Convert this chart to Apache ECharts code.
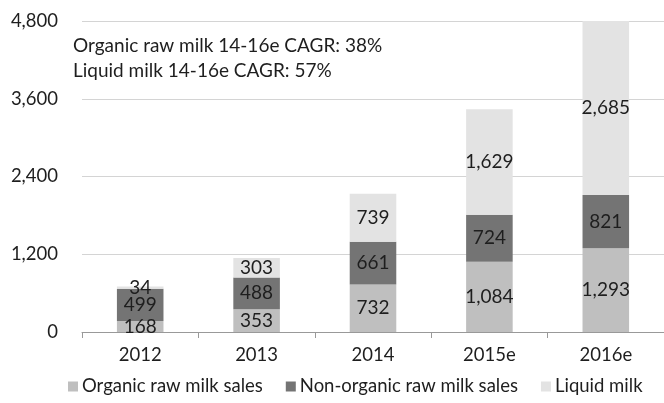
<!DOCTYPE html>
<html>
<head>
<meta charset="utf-8">
<script src="https://cdn.jsdelivr.net/npm/echarts@6/dist/echarts.min.js"></script>
<style>
  html, body { margin: 0; padding: 0; background: #fff; }
  #chart { width: 664px; height: 403px; }
</style>
</head>
<body>
<div id="chart"></div>
<script>
// Milk sales by year (stacked)
const years = ['2012', '2013', '2014', '2015e', '2016e'];
const organicRaw = [168, 353, 732, 1084, 1293];
const nonOrganicRaw = [499, 488, 661, 724, 821];
const liquidMilk = [34, 303, 739, 1629, 2685];
const yTicks = [0, 1200, 2400, 3600, 4800];
const notes = ['Organic raw milk 14-16e CAGR: 38%', 'Liquid milk 14-16e CAGR: 57%'];

const FONT = 'Lato';
const TEXT = '#1e1e1e';

const chart = echarts.init(document.getElementById('chart'), null, { renderer: 'canvas' });

function series(name, data, color) {
  return {
    name: name,
    type: 'bar',
    stack: 'total',
    data: data,
    barWidth: '40%',
    itemStyle: { color: color },
    label: {
      show: true,
      position: 'inside',
      color: TEXT,
      fontFamily: FONT,
      fontSize: 19,
      formatter: p => p.value.toLocaleString('en-US')
    }
  };
}

chart.setOption({
  animation: false,
  textStyle: { fontFamily: FONT },
  grid: { left: 82, right: -2, top: 21, bottom: 71, containLabel: false },
  xAxis: {
    type: 'category',
    data: years,
    axisLine: { lineStyle: { color: '#999' } },
    axisTick: { show: true, length: 6, lineStyle: { color: '#999' } },
    axisLabel: { color: TEXT, fontFamily: FONT, fontSize: 18.5, margin: 14 }
  },
  yAxis: {
    type: 'value',
    min: yTicks[0],
    max: yTicks[yTicks.length - 1],
    interval: yTicks[1] - yTicks[0],
    axisLine: { show: false },
    axisTick: { show: false },
    splitLine: { lineStyle: { color: '#d4d4d4', width: 1 } },
    axisLabel: {
      color: TEXT, fontFamily: FONT, fontSize: 18.5, margin: 24,
      formatter: v => v.toLocaleString('en-US')
    }
  },
  legend: {
    bottom: 2,
    left: 63,
    itemWidth: 10,
    itemHeight: 10,
    itemGap: 23,
    icon: 'rect',
    textStyle: { color: TEXT, fontFamily: FONT, fontSize: 18.5, padding: [0, 0, 0, -1] },
    data: ['Organic raw milk sales', 'Non-organic raw milk sales', 'Liquid milk']
  },
  graphic: notes.map((t, i) => ({
    type: 'text',
    left: 73,
    top: 36 + i * 25,
    style: { text: t, fill: TEXT, font: '19px ' + FONT }
  })),
  series: [
    series('Organic raw milk sales', organicRaw, '#bfbfbf'),
    series('Non-organic raw milk sales', nonOrganicRaw, '#747474'),
    series('Liquid milk', liquidMilk, '#e3e3e3')
  ]
});
</script>
</body>
</html>
